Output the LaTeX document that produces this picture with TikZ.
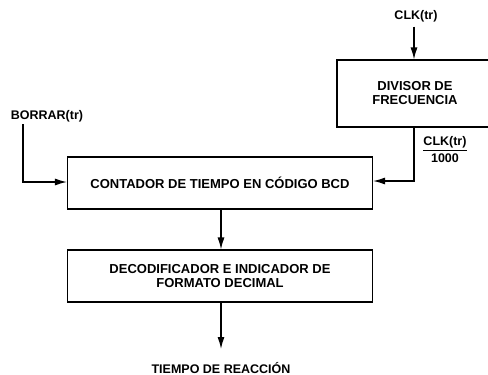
\documentclass[tikz,border=0pt]{standalone}
\usepackage{fontspec}
\setmainfont{Liberation Sans}
\usetikzlibrary{arrows.meta}
\tikzset{
  blk/.style={draw, line width=1.1pt, rectangle, inner sep=0pt, align=center,
    font=\bfseries\fontsize{13}{14}\selectfont},
  lbl/.style={inner sep=0pt, align=center, font=\bfseries\fontsize{12.5}{14}\selectfont},
  conn/.style={line width=1.3pt, -{Latex[length=12pt,width=7pt]}},
  wire/.style={line width=1.3pt}
}
\begin{document}
\begin{tikzpicture}[x=1pt,y=-1pt]
\useasboundingbox (0,0) rectangle (488,375);
\clip (0,0) rectangle (488,375);
\fill[white] (0,0) rectangle (488,375);
% boxes
\node[blk, minimum width=156pt, minimum height=67pt] (div) at (415,93.5) {\hspace*{0pt}DIVISOR DE\\FRECUENCIA};
\node[blk, minimum width=305pt, minimum height=52pt] (cnt) at (220,183) {CONTADOR DE TIEMPO EN CÓDIGO BCD};
\node[blk, minimum width=305pt, minimum height=52pt] (dec) at (220,276) {DECODIFICADOR E INDICADOR DE\\FORMATO DECIMAL};
% labels
\node[lbl] (clk) at (416,16.5) {CLK(tr)};
\node[lbl] (borrar) at (47,116) {BORRAR(tr)};
\node[lbl] (frac) at (445,150) {\underline{CLK(tr)}\\[3pt]1000};
\node[lbl] (out) at (221,368) {TIEMPO DE REACCIÓN};
% coordinates
\coordinate (outtip) at (221,349);
\coordinate (bstart) at (23,124);
% connectors
\draw[conn] (clk.south) ++(-2,4) coordinate (clkst) -- (clkst |- div.north);
\draw[conn] (div.south -| 414,0) -- (414,181) -- (cnt.east |- 0,181);
\draw[conn] (bstart) -- (23,182) -- (cnt.west |- 0,182);
\draw[conn] (cnt.south -| 221,0) -- (dec.north -| 221,0);
\draw[conn] (dec.south -| 221,0) -- (outtip);
\end{tikzpicture}
\end{document}
